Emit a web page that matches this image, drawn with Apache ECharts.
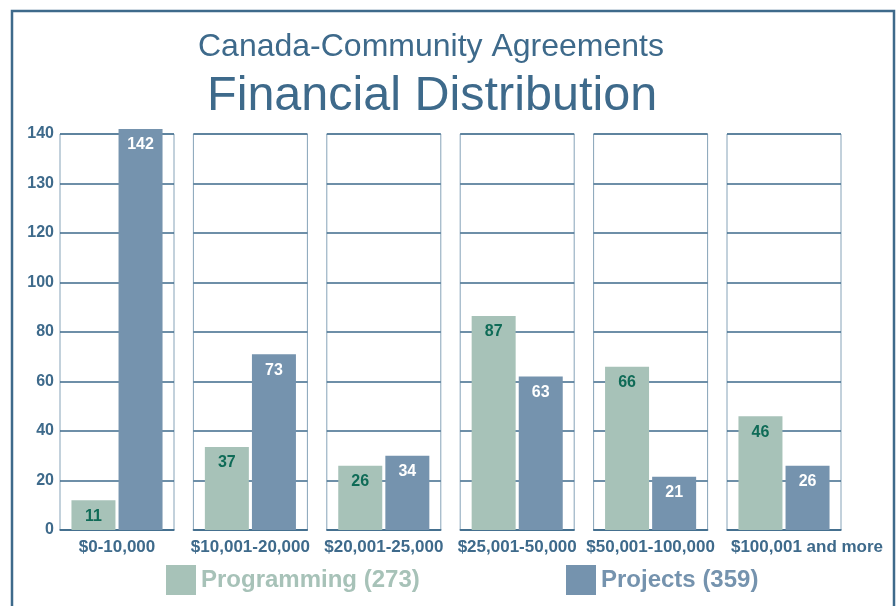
<!DOCTYPE html>
<html>
<head>
<meta charset="utf-8">
<script src="https://cdn.jsdelivr.net/npm/echarts@6/dist/echarts.min.js"></script>
<style>
html,body{margin:0;padding:0;background:#fff;}
#chart{width:896px;height:606px;}
</style>
</head>
<body>
<div id="chart"></div>
<script>
// ---- data ----
var categories = ['$0-10,000', '$10,001-20,000', '$20,001-25,000', '$25,001-50,000', '$50,001-100,000', '$100,001 and more'];
var seriesNames = ['Programming (273)', 'Projects (359)'];
// printed values
var programmingLabels = [11, 37, 26, 87, 66, 46];
var projectsLabels = [142, 73, 34, 63, 21, 26];
// bar heights as drawn on the axis scale
var programmingHeights = [12, 33.5, 26, 86.5, 66, 46];
var projectsHeights = [162, 71, 30, 62, 21.5, 26];
// y-axis tick labels as printed (ticks every 20 from 0)
var yTickLabels = ['0', '20', '40', '60', '80', '100', '120', '130', '140'];

var DARK = '#3e6a8b';
var EDGE = '#86a3b8';
var GREEN = '#a7c2b8';
var BLUE = '#7593ae';
var FONT = '"Liberation Sans", Arial, Helvetica, sans-serif';

var grids = [], xAxes = [], yAxes = [], series = [];
var boxLeft = 60, boxStep = 133.4, boxW = 114, boxTop = 134, boxH = 396;
for (var i = 0; i < categories.length; i++) {
  grids.push({
    left: boxLeft + boxStep * i, top: boxTop, width: boxW, height: boxH,
    show: true, backgroundColor: '#fff', borderColor: EDGE, borderWidth: 1
  });
  var last = (i === categories.length - 1);
  xAxes.push({
    type: 'category', gridIndex: i, data: [categories[i]],
    axisTick: {show: false},
    axisLine: {show: true, lineStyle: {color: DARK, width: 1.5}},
    axisLabel: {color: DARK, fontFamily: FONT, fontWeight: 'bold', fontSize: 17, margin: 9,
      padding: last ? [0, 0, 0, 46] : 0}
  });
  yAxes.push({
    type: 'value', gridIndex: i, min: 0, max: 160, interval: 20,
    axisLine: {show: false}, axisTick: {show: false},
    axisLabel: {
      show: i === 0, color: DARK, fontFamily: FONT, fontWeight: 'bold', fontSize: 16, margin: 6,
      formatter: function (v) { return yTickLabels[Math.round(v / 20)] || ''; }
    },
    splitLine: {show: true, lineStyle: {color: DARK, width: 1.5}}
  });
  series.push({
    type: 'bar', name: seriesNames[0], xAxisIndex: i, yAxisIndex: i,
    barWidth: 44, barGap: '7%', clip: false,
    itemStyle: {color: GREEN},
    label: {show: true, position: 'insideTop', distance: 8, color: '#0f6b57',
      fontFamily: FONT, fontWeight: 'bold', fontSize: 16,
      formatter: (function (t) { return function () { return String(t); }; })(programmingLabels[i])},
    data: [programmingHeights[i]]
  });
  series.push({
    type: 'bar', name: seriesNames[1], xAxisIndex: i, yAxisIndex: i,
    barWidth: 44, barGap: '7%', clip: false,
    itemStyle: {color: BLUE},
    label: {show: true, position: 'insideTop', distance: 8, color: '#ffffff',
      fontFamily: FONT, fontWeight: 'bold', fontSize: 16,
      formatter: (function (t) { return function () { return String(t); }; })(projectsLabels[i])},
    data: [projectsHeights[i]]
  });
}

var chart = echarts.init(document.getElementById('chart'), null, {renderer: 'canvas'});
chart.setOption({
  animation: false,
  backgroundColor: '#fff',
  title: [
    {text: 'Canada-Community Agreements', left: 193, top: 26,
      textStyle: {color: DARK, fontFamily: FONT, fontWeight: 'normal', fontSize: 32}},
    {text: 'Financial Distribution', left: 202, top: 67,
      textStyle: {color: DARK, fontFamily: FONT, fontWeight: 'normal', fontSize: 48.5}}
  ],
  legend: [
    {data: [seriesNames[0]], left: 166, top: 565, icon: 'rect', itemWidth: 30, itemHeight: 30,
      selectedMode: false, padding: 0,
      textStyle: {color: GREEN, fontFamily: FONT, fontWeight: 'bold', fontSize: 24}},
    {data: [seriesNames[1]], left: 566, top: 565, icon: 'rect', itemWidth: 30, itemHeight: 30,
      selectedMode: false, padding: 0,
      textStyle: {color: BLUE, fontFamily: FONT, fontWeight: 'bold', fontSize: 24}}
  ],
  graphic: [
    {type: 'rect', silent: true, z: -1,
      shape: {x: 12, y: 11, width: 882, height: 640},
      style: {fill: 'none', stroke: DARK, lineWidth: 2.5}}
  ],
  grid: grids,
  xAxis: xAxes,
  yAxis: yAxes,
  series: series
});
</script>
</body>
</html>
